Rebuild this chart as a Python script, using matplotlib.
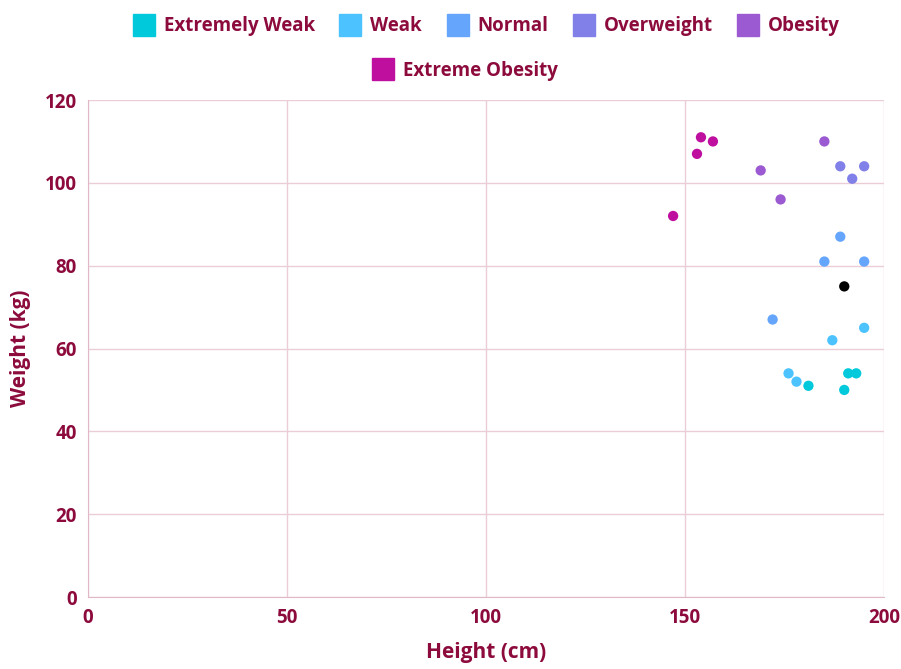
import matplotlib.pyplot as plt
from matplotlib.lines import Line2D

plt.rcParams['font.family'] = ['Open Sans', 'DejaVu Sans']

categories = ['Extremely Weak', 'Weak', 'Normal', 'Overweight', 'Obesity', 'Extreme Obesity']
colors = ['#00c9dc', '#4cc3ff', '#65a6fc', '#8080e8', '#9b5ad2', '#bf0f9f']

heights = {
    'Extremely Weak': [181, 191, 193, 190],
    'Weak': [195, 187, 176, 178],
    'Normal': [189, 185, 195, 172],
    'Overweight': [189, 195, 192],
    'Obesity': [185, 169, 174],
    'Extreme Obesity': [154, 153, 157, 147],
}
weights = {
    'Extremely Weak': [51, 54, 54, 50],
    'Weak': [65, 62, 54, 52],
    'Normal': [87, 81, 81, 67],
    'Overweight': [104, 104, 101],
    'Obesity': [110, 103, 96],
    'Extreme Obesity': [111, 107, 110, 92],
}
other_height = [190]
other_weight = [75]

text_color = '#8c0b3c'
grid_color = '#ebcdd8'

fig = plt.figure(figsize=(9.01, 6.69), dpi=100)
ax = fig.add_axes([0.0977, 0.1076, 0.8835, 0.7429])

for cat, col in zip(categories, colors):
    ax.scatter(heights[cat], weights[cat], s=55, color=col, edgecolors='none', zorder=3)
ax.scatter(other_height, other_weight, s=55, color='black', edgecolors='none', zorder=3)

ax.set_xlim(0, 200)
ax.set_ylim(0, 120)
ax.set_xticks([0, 50, 100, 150, 200])
ax.set_yticks([0, 20, 40, 60, 80, 100, 120])
ax.grid(True, color=grid_color, linewidth=1)
ax.set_axisbelow(True)
for side in ['top', 'right']:
    ax.spines[side].set_visible(False)
for side in ['left', 'bottom']:
    ax.spines[side].set_color('#e0b8c8')
ax.tick_params(length=0, pad=8, labelsize=13.5, labelcolor=text_color)
for lab in ax.get_xticklabels() + ax.get_yticklabels():
    lab.set_fontweight('bold')
ax.set_xlabel('Height (cm)', fontsize=15, fontweight='bold', color=text_color, labelpad=10)
ax.set_ylabel('Weight (kg)', fontsize=15, fontweight='bold', color=text_color, labelpad=10)

handles = [Line2D([], [], marker='s', linestyle='none', markersize=16.5,
                  markerfacecolor=c, markeredgecolor=c) for c in colors]
leg_kw = dict(frameon=False, handletextpad=0.05, columnspacing=0.9,
              prop={'size': 13.5, 'weight': 'bold'}, labelcolor=text_color)
leg1 = fig.legend(handles[:5], categories[:5], ncol=5, loc='center',
                  bbox_to_anchor=(0.5355, 0.961), **leg_kw)
leg2 = fig.legend(handles[5:], categories[5:], ncol=1, loc='center',
                  bbox_to_anchor=(0.512, 0.894), **leg_kw)

fig.savefig('out.png', dpi=100)
